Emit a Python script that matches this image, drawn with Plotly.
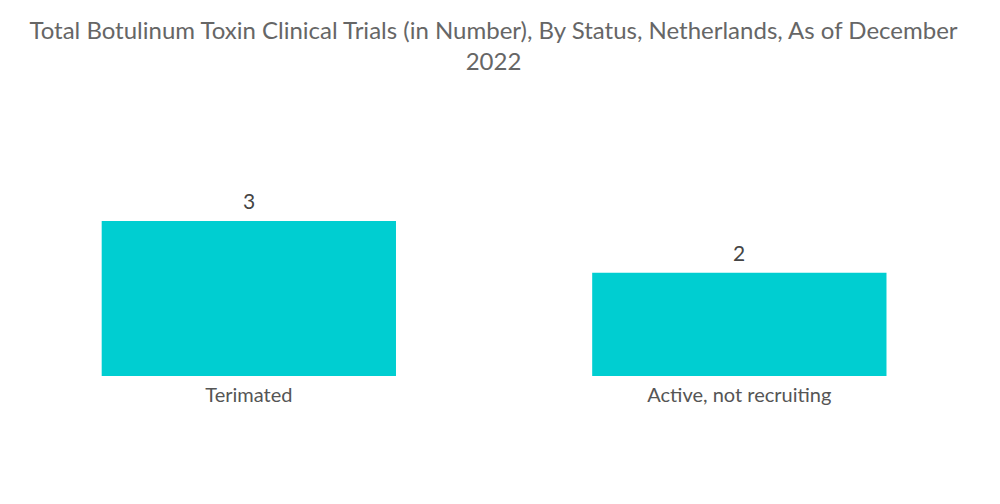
import plotly.graph_objects as go

categories = ["Terimated", "Active, not recruiting"]
values = [3, 2]
value_labels = ["3", "2"]

title_text = "Total Botulinum Toxin Clinical Trials (in Number), By Status, Netherlands, As of December<br>2022"

fig = go.Figure(
    go.Bar(
        x=categories,
        y=values,
        marker=dict(color="#00CED1", line=dict(width=0)),
        hoverinfo="skip",
    )
)

for c, v, t in zip(categories, values, value_labels):
    fig.add_annotation(
        x=c, y=v, text=t, showarrow=False,
        yanchor="bottom", yshift=6,
        font=dict(family="Lato", size=21, color="#444444"),
    )

fig.update_layout(
    width=1000,
    height=504,
    paper_bgcolor="white",
    plot_bgcolor="white",
    font=dict(family="Lato", color="#555555"),
    title=dict(
        text=title_text,
        x=0.4855,
        xanchor="center",
        y=0.939,
        yanchor="top",
        font=dict(family="Lato", size=24, color="#666666"),
    ),
    margin=dict(l=0, r=19, t=100, b=136, autoexpand=False),
    bargap=0.4,
    showlegend=False,
)
fig.update_xaxes(
    range=[-0.491, 1.509],
    showgrid=False,
    showline=False,
    zeroline=False,
    ticks="outside",
    ticklen=1,
    tickcolor="rgba(0,0,0,0)",
    tickfont=dict(family="Lato", size=20, color="#555555"),
)
fig.update_yaxes(
    visible=False,
    range=[0, 5.19],
    showgrid=False,
    zeroline=False,
)

fig.write_html("out.html")
